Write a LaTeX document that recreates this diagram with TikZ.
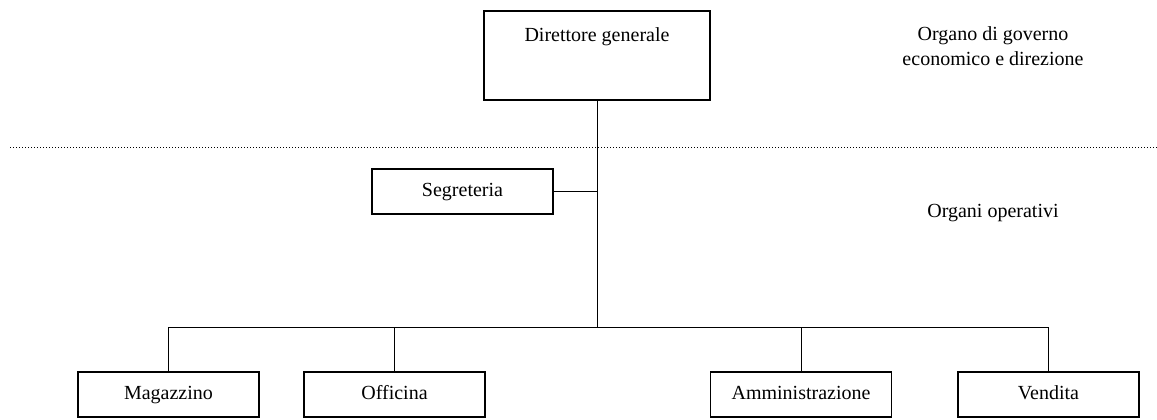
\documentclass[tikz,border=0pt]{standalone}
\usepackage{fontspec}
\setmainfont{Liberation Serif}
\begin{document}
\begin{tikzpicture}[x=1pt,y=-1pt,
  every node/.style={font=\fontsize{20}{25}\selectfont, inner sep=0pt},
  box/.style={draw, line width=1.3pt, minimum width=181pt, minimum height=45pt,
    text height=12pt, text depth=2pt},
  link/.style={line width=1pt},
  note/.style={align=center}]
  \useasboundingbox (0,0) rectangle (1157,420);
  % top box: text sits near the upper edge
  \node[box, minimum width=226pt, minimum height=89pt] (dg) at (597,55.5) {};
  \node[anchor=base] (dgt) at (597,42) {Direttore generale};
  % level separator
  \draw[line width=1pt, dash pattern=on 1pt off 2pt] (10,147) -- (1157,147);
  % side notes
  \node[note] (gov) at (993,46) {Organo di governo\\economico e direzione};
  \node (op) at (993,213) {Organi operativi};
  % staff and line units
  \node[box] (seg) at (462.5,191.5) {Segreteria};
  \node[box] (mag) at (168.5,394.5) {Magazzino};
  \node[box] (off) at (394.5,394.5) {Officina};
  \node[box] (amm) at (801,394.5) {Amministrazione};
  \node[box] (ven) at (1048.5,394.5) {Vendita};
  % connectors
  \coordinate (bus) at (597,327);
  \draw[link] (dg.south) -- (bus);
  \draw[link] (seg.east) -- (seg.east -| bus);
  \draw[link] (mag.north) -- (mag.north |- bus) -- (ven.north |- bus) -- (ven.north);
  \draw[link] (off.north) -- (off.north |- bus);
  \draw[link] (amm.north) -- (amm.north |- bus);
\end{tikzpicture}
\end{document}
